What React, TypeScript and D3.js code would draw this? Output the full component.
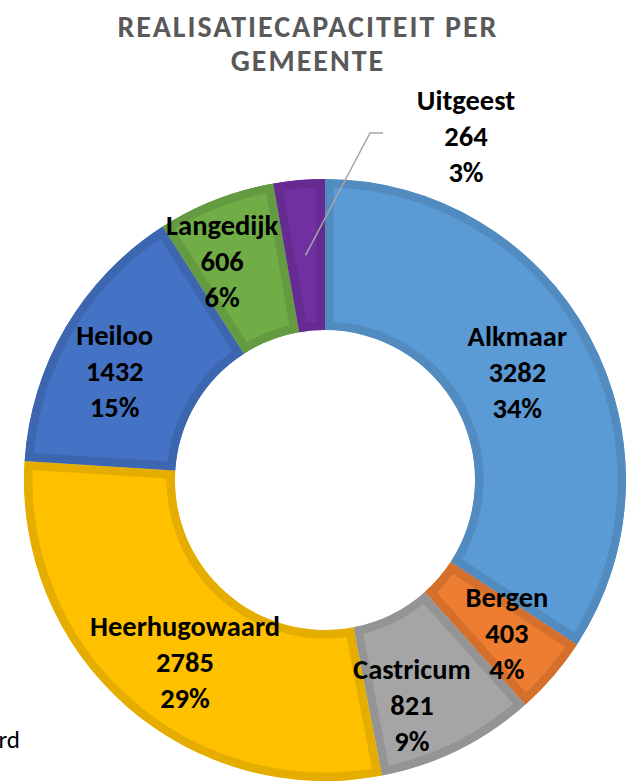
import React from "react";
import * as d3 from "d3";

const categories = ["Alkmaar", "Bergen", "Castricum", "Heerhugowaard", "Heiloo", "Langedijk", "Uitgeest"];
const values = [3282, 403, 821, 2785, 1432, 606, 264];
const colors = ["#5B9BD5", "#ED7D31", "#A5A5A5", "#FFC000", "#4472C4", "#70AD47", "#7030A0"];
const titleLines = ["REALISATIECAPACITEIT PER", "GEMEENTE"];

// label nudges (styling only), in px relative to arc centroid
const labelNudge: Record<string, [number, number]> = {
  Alkmaar: [-6, 0],
  Bergen: [11, 6],
  Castricum: [-13, 23],
  Heerhugowaard: [9, 13],
  Heiloo: [-16, 6],
  Langedijk: [-21, -8],
};

const W = 640;
const H = 782;
const cx = 325;
const cy = 480;
const rOuter = 301;
const rInner = 150;
const font = "Carlito, Lato, 'Open Sans', sans-serif";
const labelSize = 28.5;

export default function App() {
  const total = d3.sum(values);
  const pie = d3.pie<number>().sort(null).value((d) => d)(values);
  const arc = d3.arc<d3.PieArcDatum<number>>().innerRadius(rInner).outerRadius(rOuter);
  const fmtPct = (v: number) => `${Math.round((v / total) * 100)}%`;
  const lineGap = 36;

  return (
    <svg
      width={W}
      height={H}
      style={{ position: "absolute", left: 0, top: 0, background: "#fff" }}
      fontFamily={font}
    >
      <defs>
        {pie.map((p, i) => (
          <clipPath id={`clip${i}`} key={i}>
            <path d={arc(p) || ""} />
          </clipPath>
        ))}
      </defs>
      {titleLines.map((t, i) => (
        <text
          key={t}
          x={308}
          y={37 + i * 34}
          textAnchor="middle"
          fontSize={30}
          fontWeight={700}
          fill="#595959"
          letterSpacing={2}
        >
          {t}
        </text>
      ))}
      <g transform={`translate(${cx},${cy})`}>
        {pie.map((p, i) => {
          const c = colors[i];
          const dark = d3.color(c)!.darker(0.3).formatHex();
          return (
            <path
              key={categories[i]}
              d={arc(p) || ""}
              fill={c}
              stroke={dark}
              strokeWidth={17}
              clipPath={`url(#clip${i})`}
            />
          );
        })}
      </g>
      {pie.map((p, i) => {
        const name = categories[i];
        const [x0, y0] = arc.centroid(p);
        const lines = [name, String(values[i]), fmtPct(values[i])];
        if (!labelNudge[name]) {
          const px = cx + x0;
          const py = cy + y0;
          const lx = 466;
          const ly = 100;
          return (
            <g key={name}>
              <polyline
                points={`${px},${py} ${370},${ly + 33} ${383},${ly + 33}`}
                fill="none"
                stroke="#A6A6A6"
                strokeWidth={1.5}
              />
              {lines.map((t, k) => (
                <text
                  key={k}
                  x={lx}
                  y={ly + k * lineGap}
                  textAnchor="middle"
                  dominantBaseline="central"
                  fontSize={labelSize}
                  fontWeight={700}
                  fill="#000"
                >
                  {t}
                </text>
              ))}
            </g>
          );
        }
        const [dx, dy] = labelNudge[name];
        const x = cx + x0 + dx;
        const y = cy + y0 + dy;
        return (
          <g key={name}>
            {lines.map((t, k) => (
              <text
                key={k}
                x={x}
                y={y + (k - 1) * lineGap}
                textAnchor="middle"
                dominantBaseline="central"
                fontSize={labelSize}
                fontWeight={700}
                fill="#000"
              >
                {t}
              </text>
            ))}
          </g>
        );
      })}
      <text x={20} y={748} textAnchor="end" fontSize={25} fill="#000">
        {categories[3]}
      </text>
    </svg>
  );
}
